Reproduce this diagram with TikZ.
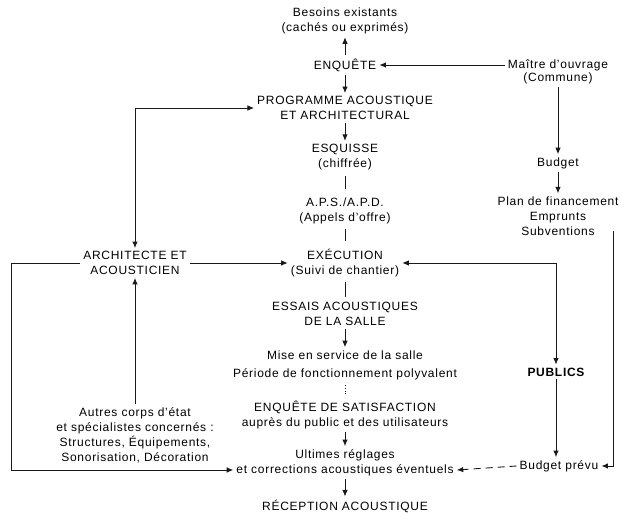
\documentclass[tikz,border=0pt]{standalone}
\usepackage{fontspec}
\setmainfont[LetterSpace=6]{Liberation Sans}
\usetikzlibrary{arrows.meta,positioning,calc}
\tikzset{
  flow/.style={-{Latex[length=6.5pt,width=5.5pt]}, line width=0.9pt, black!90},
  twoway/.style={{Latex[length=6.5pt,width=5.5pt]}-{Latex[length=6.5pt,width=5.5pt]}, line width=0.9pt, black!90},
  link/.style={line width=0.9pt, black!90},
  hint/.style={flow, dash pattern=on 7pt off 5pt},
  etape/.style={font=\fontsize{12}{15}\selectfont, align=center, inner sep=3pt}
}

\begin{document}
\begin{tikzpicture}[x=1pt,y=-1pt]
  \useasboundingbox (0,0) rectangle (622,513);
  % colonne centrale
  \node[etape] (besoins) at (345,21) {Besoins existants\\(cachés ou exprimés)};
  \node[etape] (enquete) at (345,65) {ENQUÊTE};
  \node[etape] (programme) at (345,108) {PROGRAMME ACOUSTIQUE\\ET ARCHITECTURAL};
  \node[etape] (esquisse) at (345,157) {ESQUISSE\\(chiffrée)};
  \node[etape] (aps) at (345,211) {A.P.S./A.P.D.\\(Appels d'offre)};
  \node[etape] (execution) at (345,263) {EXÉCUTION\\(Suivi de chantier)};
  \node[etape] (essais) at (345,314) {ESSAIS ACOUSTIQUES\\DE LA SALLE};
  \node[etape] (mise) at (345,365) {Mise en service de la salle\\[3pt]Période de fonctionnement polyvalent};
  \node[etape] (satisf) at (345,415) {ENQUÊTE DE SATISFACTION\\auprès du public et des utilisateurs};
  \node[etape] (ultimes) at (345,455) {Ultimes réglages};
  \node[etape] (corr) at (345,470) {et corrections acoustiques éventuels};
  \node[etape] (reception) at (345,506) {RÉCEPTION ACOUSTIQUE};
  % colonne gauche
  \node[etape] (archi) at (135,263) {ARCHITECTE ET\\ACOUSTICIEN};
  \node[etape] (autres) at (135,435) {Autres corps d'état\\et spécialistes concernés :\\Structures, Équipements,\\Sonorisation, Décoration};
  \coordinate (gauche) at (11,263);
  % colonne droite
  \node[etape] (maitre) at (558,65) {Maître d'ouvrage};
  \node[etape] (commune) at (558,78) {(Commune)};
  \node[etape] (budget) at (558,163) {Budget};
  \node[etape] (plan) at (558,216) {Plan de financement\\Emprunts\\Subventions};
  \node[etape, font=\fontsize{12}{15}\selectfont\bfseries] (publics) at (556,372) {PUBLICS};
  \node[etape] (prevu) at (559,466) {Budget prévu};
  \coordinate (droite) at (613,231);

  \draw[flow] (enquete.north) -- (besoins.south);
  \draw[flow] (maitre.west) -- (enquete.east);
  \draw[flow] (enquete.south) -- (programme.north);
  \draw[flow] (programme.south) -- (esquisse.north);
  \draw[link, shorten <=3pt, shorten >=6pt] (esquisse.south) -- (aps.north);
  \draw[link, shorten <=2pt, shorten >=5pt] (aps.south) -- (execution.north);
  \draw[link, shorten <=2pt, shorten >=2pt] (execution.south) -- (essais.north);
  \draw[flow] (essais.south) -- (mise.north);
  \draw[link, dotted, shorten <=2pt, shorten >=4pt] (mise.south) -- (satisf.north);
  \draw[flow] (satisf.south) -- (ultimes.north);
  \draw[flow] (corr.south) -- (reception.north);
  \draw[twoway] (archi.north) |- (programme.west);
  \draw[flow] (archi.east) -- (execution.west);
  \draw[flow] (autres.north) -- (archi.south);
  \draw[flow] (archi.west) -- (gauche) |- (corr.west);
  \draw[flow] (commune.south) -- (budget.north);
  \draw[flow] (budget.south) -- (plan.north);
  \draw[twoway] (execution.east) -| (publics.north);
  \draw[flow] (publics.south) -- (publics.south |- prevu.north);
  \draw[flow] (droite) |- (prevu.east);
  \draw[hint] (prevu.west) -- (corr.east);
\end{tikzpicture}
\end{document}
